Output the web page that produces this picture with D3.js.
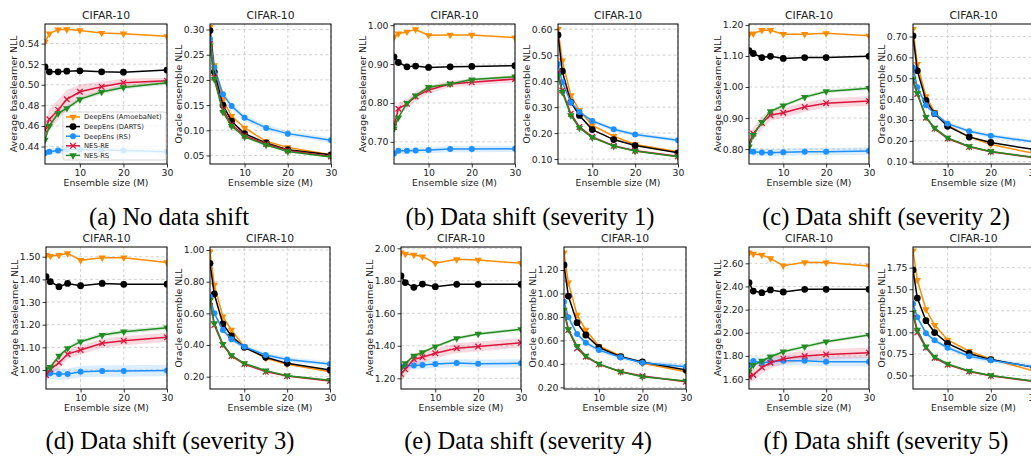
<!DOCTYPE html>
<html>
<head>
<meta charset="utf-8">
<script src="https://cdn.jsdelivr.net/npm/d3@7"></script>
<style>
  body { margin: 0; background: #fff; }
  .container text { font-family: "DejaVu Sans", sans-serif; fill: #222; }
  .container text.caption { font-family: "Liberation Serif", serif; fill: #000; }
</style>
</head>
<body>
<div class="container"></div>
<script>
"use strict";

// ensemble sizes on the x axis
const ensembleSizes = [2, 3, 5, 7, 10, 15, 20, 30];
const xTicks = [10, 20, 30];
const seriesNames = ["DeepEns (AmoebaNet)", "DeepEns (DARTS)", "DeepEns (RS)", "NES-RE", "NES-RS"];
const captions = ["(a) No data shift", "(b) Data shift (severity 1)", "(c) Data shift (severity 2)",
  "(d) Data shift (severity 3)", "(e) Data shift (severity 4)", "(f) Data shift (severity 5)"];

// rows: AmoebaNet, DARTS, RS, NES-RE, NES-RS
const noShiftBase = [
  [0.5416, 0.5496, 0.5535, 0.5538, 0.5528, 0.5502, 0.5496, 0.547],
  [0.5174, 0.5125, 0.5125, 0.5132, 0.5135, 0.5125, 0.5122, 0.5142],
  [0.4336, 0.435, 0.436, 0.437, 0.437, 0.4365, 0.436, 0.435],
  [0.456, 0.4664, 0.4755, 0.4858, 0.4932, 0.498, 0.502, 0.5038],
  [0.4464, 0.46, 0.4722, 0.477, 0.4858, 0.4929, 0.4974, 0.502]
];
const noShiftOracle = [
  [0.3047, 0.229, 0.161, 0.128, 0.1047, 0.078, 0.066, 0.0513],
  [0.298, 0.216, 0.15, 0.118, 0.0933, 0.0747, 0.0613, 0.0513],
  [0.281, 0.2247, 0.1713, 0.148, 0.1247, 0.1047, 0.0933, 0.08],
  [0.2713, 0.2047, 0.1413, 0.1113, 0.0893, 0.0727, 0.06, 0.048],
  [0.268, 0.2013, 0.136, 0.108, 0.0867, 0.0707, 0.058, 0.0467]
];
const shift1Base = [
  [0.9696, 0.978, 0.983, 0.989, 0.974, 0.9747, 0.9747, 0.968],
  [0.9185, 0.904, 0.893, 0.8947, 0.8913, 0.893, 0.8939, 0.8956],
  [0.670, 0.677, 0.677, 0.678, 0.6787, 0.6813, 0.6813, 0.682],
  [0.738, 0.785, 0.7978, 0.8165, 0.8335, 0.8488, 0.853, 0.8616],
  [0.734, 0.762, 0.7995, 0.819, 0.8403, 0.8488, 0.86, 0.8675]
];
const shift1Oracle = [
  [0.60, 0.479, 0.345, 0.2875, 0.23, 0.188, 0.156, 0.128],
  [0.578, 0.438, 0.3194, 0.268, 0.2135, 0.175, 0.152, 0.124],
  [0.466, 0.396, 0.319, 0.281, 0.2467, 0.2148, 0.1944, 0.1727],
  [0.434, 0.364, 0.2747, 0.2237, 0.1855, 0.151, 0.132, 0.111],
  [0.421, 0.3577, 0.268, 0.22, 0.183, 0.15, 0.1306, 0.109]
];
const shift2Base = [
  [1.170, 1.172, 1.183, 1.183, 1.170, 1.170, 1.173, 1.165],
  [1.117, 1.108, 1.095, 1.099, 1.092, 1.095, 1.095, 1.099],
  [0.7936, 0.7915, 0.789, 0.788, 0.790, 0.7915, 0.7915, 0.7936],
  [0.818, 0.85, 0.884, 0.909, 0.917, 0.9355, 0.948, 0.955],
  [0.8075, 0.845, 0.887, 0.9216, 0.94, 0.9675, 0.9856, 0.996]
];
const shift2Oracle = [
  [0.735, 0.568, 0.4127, 0.338, 0.2746, 0.219, 0.1825, 0.14],
  [0.703, 0.5365, 0.3937, 0.33, 0.27, 0.219, 0.192, 0.158],
  [0.552, 0.457, 0.37, 0.33, 0.2825, 0.246, 0.224, 0.195],
  [0.489, 0.425, 0.311, 0.2587, 0.211, 0.1714, 0.1476, 0.12],
  [0.497, 0.4286, 0.314, 0.262, 0.2143, 0.173, 0.149, 0.121]
];
const shift3Base = [
  [1.507, 1.503, 1.507, 1.515, 1.485, 1.4956, 1.4956, 1.475],
  [1.412, 1.39, 1.3676, 1.382, 1.372, 1.382, 1.378, 1.379],
  [0.982, 0.985, 0.982, 0.982, 0.9926, 0.9956, 0.9956, 0.998],
  [0.978, 1.003, 1.032, 1.07, 1.088, 1.1176, 1.129, 1.144],
  [1.003, 1.012, 1.062, 1.0956, 1.125, 1.154, 1.169, 1.1868]
];
const shift3Oracle = [
  [0.989, 0.779, 0.579, 0.495, 0.3895, 0.316, 0.278, 0.2316],
  [0.916, 0.722, 0.5326, 0.457, 0.385, 0.322, 0.284, 0.242],
  [0.705, 0.6, 0.495, 0.436, 0.389, 0.337, 0.309, 0.28],
  [0.674, 0.526, 0.4, 0.3305, 0.28, 0.2316, 0.204, 0.1726],
  [0.684, 0.537, 0.406, 0.335, 0.284, 0.238, 0.206, 0.177]
];
const shift4Base = [
  [1.973, 1.965, 1.959, 1.949, 1.908, 1.932, 1.928, 1.908],
  [1.83, 1.789, 1.76, 1.78, 1.764, 1.778, 1.778, 1.778],
  [1.272, 1.276, 1.278, 1.282, 1.288, 1.294, 1.29, 1.292],
  [1.227, 1.255, 1.317, 1.329, 1.354, 1.385, 1.395, 1.419],
  [1.262, 1.292, 1.337, 1.36, 1.395, 1.446, 1.473, 1.5015]
];
const shift4Oracle = [
  [1.348, 1.092, 0.8165, 0.689, 0.552, 0.467, 0.4045, 0.3335],
  [1.243, 0.978, 0.751, 0.646, 0.541, 0.461, 0.416, 0.348],
  [0.93, 0.7966, 0.6545, 0.5807, 0.518, 0.4557, 0.41, 0.376],
  [0.845, 0.689, 0.532, 0.461, 0.396, 0.3335, 0.2966, 0.248],
  [0.859, 0.694, 0.552, 0.467, 0.399, 0.3335, 0.291, 0.254]
];
const shift5Base = [
  [2.692, 2.681, 2.672, 2.643, 2.58, 2.6086, 2.606, 2.577],
  [2.433, 2.36, 2.346, 2.37, 2.352, 2.375, 2.375, 2.375],
  [1.721, 1.756, 1.741, 1.75, 1.758, 1.758, 1.75, 1.75],
  [1.62, 1.635, 1.70, 1.741, 1.776, 1.799, 1.813, 1.828],
  [1.663, 1.721, 1.756, 1.793, 1.836, 1.88, 1.923, 1.98]
];
const shift5Oracle = [
  [1.947, 1.606, 1.265, 1.084, 0.912, 0.782, 0.692, 0.55],
  [1.7235, 1.398, 1.135, 0.998, 0.8725, 0.755, 0.684, 0.595],
  [1.331, 1.1745, 0.99, 0.908, 0.8216, 0.7235, 0.676, 0.60],
  [1.2137, 0.998, 0.8216, 0.704, 0.6255, 0.547, 0.496, 0.43],
  [1.233, 1.029, 0.833, 0.7157, 0.633, 0.551, 0.50, 0.435]
];

// half-widths of the shaded bands, rows: RS, NES-RE, NES-RS
const noShiftBaseSd = [
  [0.003, 0.003, 0.003, 0.003, 0.003, 0.003, 0.003, 0.003],
  [0.008, 0.01, 0.01, 0.009, 0.007, 0.005, 0.004, 0.003],
  [0.003, 0.003, 0.003, 0.002, 0.002, 0.002, 0.002, 0.002]
];
const noShiftOracleSd = [
  [0.006, 0.006, 0.006, 0.006, 0.006, 0.006, 0.005, 0.005],
  [0.002, 0.002, 0.002, 0.002, 0.002, 0.002, 0.002, 0.002],
  [0.002, 0.002, 0.002, 0.002, 0.002, 0.002, 0.002, 0.002]
];
const shift1BaseSd = [
  [0.008, 0.008, 0.008, 0.008, 0.008, 0.008, 0.008, 0.008],
  [0.015, 0.015, 0.013, 0.012, 0.01, 0.008, 0.008, 0.008],
  [0.004, 0.004, 0.004, 0.004, 0.004, 0.004, 0.004, 0.004]
];
const shift1OracleSd = [
  [0.008, 0.008, 0.008, 0.008, 0.008, 0.008, 0.008, 0.008],
  [0.004, 0.004, 0.004, 0.004, 0.004, 0.004, 0.004, 0.004],
  [0.003, 0.003, 0.003, 0.003, 0.003, 0.003, 0.003, 0.003]
];
const shift2BaseSd = [
  [0.012, 0.012, 0.012, 0.012, 0.012, 0.012, 0.012, 0.012],
  [0.02, 0.02, 0.02, 0.018, 0.016, 0.015, 0.015, 0.015],
  [0.006, 0.006, 0.006, 0.006, 0.006, 0.006, 0.006, 0.006]
];
const shift2OracleSd = [
  [0.01, 0.01, 0.01, 0.01, 0.01, 0.01, 0.01, 0.01],
  [0.005, 0.005, 0.005, 0.005, 0.005, 0.005, 0.005, 0.005],
  [0.004, 0.004, 0.004, 0.004, 0.004, 0.004, 0.004, 0.004]
];
const shift3BaseSd = [
  [0.025, 0.025, 0.025, 0.025, 0.025, 0.025, 0.025, 0.025],
  [0.025, 0.025, 0.025, 0.022, 0.02, 0.02, 0.02, 0.02],
  [0.01, 0.01, 0.01, 0.01, 0.01, 0.01, 0.01, 0.01]
];
const shift3OracleSd = [
  [0.015, 0.015, 0.015, 0.015, 0.015, 0.015, 0.015, 0.015],
  [0.006, 0.006, 0.006, 0.006, 0.006, 0.006, 0.006, 0.006],
  [0.005, 0.005, 0.005, 0.005, 0.005, 0.005, 0.005, 0.005]
];
const shift4BaseSd = [
  [0.025, 0.025, 0.025, 0.025, 0.025, 0.025, 0.025, 0.025],
  [0.04, 0.04, 0.035, 0.035, 0.03, 0.03, 0.03, 0.03],
  [0.01, 0.01, 0.01, 0.01, 0.01, 0.01, 0.01, 0.01]
];
const shift4OracleSd = [
  [0.02, 0.02, 0.02, 0.02, 0.02, 0.02, 0.02, 0.02],
  [0.008, 0.008, 0.008, 0.008, 0.008, 0.008, 0.008, 0.008],
  [0.006, 0.006, 0.006, 0.006, 0.006, 0.006, 0.006, 0.006]
];
const shift5BaseSd = [
  [0.04, 0.04, 0.04, 0.04, 0.04, 0.04, 0.04, 0.04],
  [0.05, 0.05, 0.05, 0.05, 0.045, 0.045, 0.045, 0.045],
  [0.015, 0.015, 0.015, 0.015, 0.015, 0.015, 0.015, 0.015]
];
const shift5OracleSd = [
  [0.03, 0.03, 0.03, 0.03, 0.03, 0.03, 0.03, 0.03],
  [0.01, 0.01, 0.01, 0.01, 0.01, 0.01, 0.01, 0.01],
  [0.008, 0.008, 0.008, 0.008, 0.008, 0.008, 0.008, 0.008]
];

// y tick labels for each panel
const ticksA1 = [0.44, 0.46, 0.48, 0.50, 0.52, 0.54];
const ticksA2 = [0.05, 0.10, 0.15, 0.20, 0.25, 0.30];
const ticksB1 = [0.70, 0.80, 0.90, 1.00];
const ticksB2 = [0.10, 0.20, 0.30, 0.40, 0.50, 0.60];
const ticksC1 = [0.80, 0.90, 1.00, 1.10, 1.20];
const ticksC2 = [0.10, 0.20, 0.30, 0.40, 0.50, 0.60, 0.70];
const ticksD1 = [1.00, 1.10, 1.20, 1.30, 1.40, 1.50];
const ticksD2 = [0.20, 0.40, 0.60, 0.80, 1.00];
const ticksE1 = [1.20, 1.40, 1.60, 1.80, 2.00];
const ticksE2 = [0.20, 0.40, 0.60, 0.80, 1.00, 1.20];
const ticksF1 = [1.60, 1.80, 2.00, 2.20, 2.40, 2.60];
const ticksF2 = [0.50, 0.75, 1.00, 1.25, 1.50, 1.75];

const baseLabel = "Average baselearner NLL";
const oracleLabel = "Oracle ensemble NLL";

/////////////////////////////////////////////////////
// layout

const width = 1031;
const height = 457;
const top1 = 24, bot1 = 164, top2 = 247, bot2 = 389;

const panels = [
  { x0: 45, x1: 167, y0: top1, y1: bot1, yDomain: [0.423, 0.559], ticks: ticksA1, values: noShiftBase, spread: noShiftBaseSd, ylabel: baseLabel, legend: true },
  { x0: 210, x1: 331, y0: top1, y1: bot1, yDomain: [0.033, 0.311], ticks: ticksA2, values: noShiftOracle, spread: noShiftOracleSd, ylabel: oracleLabel },
  { x0: 394, x1: 515, y0: top1, y1: bot1, yDomain: [0.643, 1.003], ticks: ticksB1, values: shift1Base, spread: shift1BaseSd, ylabel: baseLabel },
  { x0: 558, x1: 678, y0: top1, y1: bot1, yDomain: [0.081, 0.620], ticks: ticksB2, values: shift1Oracle, spread: shift1OracleSd, ylabel: oracleLabel },
  { x0: 749, x1: 869, y0: top1, y1: bot1, yDomain: [0.752, 1.203], ticks: ticksC1, values: shift2Base, spread: shift2BaseSd, ylabel: baseLabel },
  { x0: 913, x1: 1034, y0: top1, y1: bot1, yDomain: [0.089, 0.760], ticks: ticksC2, values: shift2Oracle, spread: shift2OracleSd, ylabel: oracleLabel },
  { x0: 46, x1: 167, y0: top2, y1: bot2, yDomain: [0.916, 1.543], ticks: ticksD1, values: shift3Base, spread: shift3BaseSd, ylabel: baseLabel },
  { x0: 210, x1: 330, y0: top2, y1: bot2, yDomain: [0.122, 1.019], ticks: ticksD2, values: shift3Oracle, spread: shift3OracleSd, ylabel: oracleLabel },
  { x0: 401, x1: 521, y0: top2, y1: bot2, yDomain: [1.134, 2.008], ticks: ticksE1, values: shift4Base, spread: shift4BaseSd, ylabel: baseLabel },
  { x0: 564, x1: 686, y0: top2, y1: bot2, yDomain: [0.186, 1.396], ticks: ticksE2, values: shift4Oracle, spread: shift4OracleSd, ylabel: oracleLabel },
  { x0: 749, x1: 869, y0: top2, y1: bot2, yDomain: [1.514, 2.741], ticks: ticksF1, values: shift5Base, spread: shift5BaseSd, ylabel: baseLabel },
  { x0: 913, x1: 1034, y0: top2, y1: bot2, yDomain: [0.343, 1.990], ticks: ticksF2, values: shift5Oracle, spread: shift5OracleSd, ylabel: oracleLabel }
];

const captionPos = [
  { x: 169, y: 225 }, { x: 530, y: 225 }, { x: 886, y: 225 },
  { x: 170, y: 449 }, { x: 528, y: 449 }, { x: 886, y: 449 }
];

const colors = ["#ff8c00", "#000000", "#1e90ff", "#dc143c", "#228b22"];
const markerKind = ["tri", "circle", "circleSmall", "x", "tri"];

const svg = d3
  .select(".container")
  .append("svg")
  .attr("width", width)
  .attr("height", height);

svg.append("rect").attr("width", width).attr("height", height).attr("fill", "#fff");

//draws a marker at 0,0 inside g
const addMarker = (g, kind, color) => {
  if (kind === "tri") {
    g.append("path")
      .attr("d", d3.symbol(d3.symbolTriangle, 24)())
      .attr("transform", "rotate(180)")
      .attr("fill", color);
  } else if (kind === "circle") {
    g.append("circle").attr("r", 3.4).attr("fill", color);
  } else if (kind === "circleSmall") {
    g.append("circle").attr("r", 3).attr("fill", color);
  } else {
    g.append("path")
      .attr("d", "M-2.8,-2.8L2.8,2.8M-2.8,2.8L2.8,-2.8")
      .attr("stroke", color)
      .attr("stroke-width", 1.3)
      .attr("fill", "none");
  }
};

const drawPanel = (p, idx) => {
  const x = d3.scaleLinear().domain([2, 30]).range([p.x0, p.x1]);
  const y = d3.scaleLinear().domain(p.yDomain).range([p.y1, p.y0]);
  const g = svg.append("g");

  const clipId = "clip" + idx;
  svg.append("clipPath").attr("id", clipId)
    .append("rect")
    .attr("x", p.x0).attr("y", p.y0)
    .attr("width", p.x1 - p.x0).attr("height", p.y1 - p.y0);

  // grid
  const grid = g.append("g").attr("stroke", "#b0b0b0").attr("stroke-width", 0.8)
    .attr("stroke-dasharray", "3,2.5").attr("opacity", 0.7);
  grid.selectAll(".gx").data(xTicks).enter().append("line")
    .attr("x1", (d) => x(d)).attr("x2", (d) => x(d))
    .attr("y1", p.y0).attr("y2", p.y1);
  grid.selectAll(".gy").data(p.ticks).enter().append("line")
    .attr("x1", p.x0).attr("x2", p.x1)
    .attr("y1", (d) => y(d)).attr("y2", (d) => y(d));

  const plot = g.append("g").attr("clip-path", "url(#" + clipId + ")");

  // shaded bands
  const area = d3.area()
    .x((d) => x(d.m))
    .y0((d) => y(d.v - d.s))
    .y1((d) => y(d.v + d.s));
  p.spread.forEach((sd, k) => {
    const si = k + 2;
    const pts = ensembleSizes.map((m, i) => ({ m: m, v: p.values[si][i], s: sd[i] }));
    plot.append("path").attr("d", area(pts))
      .attr("fill", colors[si]).attr("opacity", 0.16);
  });

  // lines and markers
  const line = d3.line().x((d) => x(d.m)).y((d) => y(d.v));
  p.values.forEach((row, si) => {
    const pts = ensembleSizes.map((m, i) => ({ m: m, v: row[i] }));
    plot.append("path").attr("d", line(pts))
      .attr("fill", "none").attr("stroke", colors[si]).attr("stroke-width", 1.5);
    pts.forEach((d) => {
      const mg = plot.append("g").attr("transform", "translate(" + x(d.m) + "," + y(d.v) + ")");
      addMarker(mg, markerKind[si], colors[si]);
    });
  });

  // axes
  const xAxis = d3.axisBottom(x).tickValues(xTicks).tickFormat(d3.format("d")).tickSize(3.5).tickPadding(2);
  const yAxis = d3.axisLeft(y).tickValues(p.ticks).tickFormat(d3.format(".2f")).tickSize(3.5).tickPadding(2);
  const gx = g.append("g").attr("transform", "translate(0," + p.y1 + ")").call(xAxis);
  const gy = g.append("g").attr("transform", "translate(" + p.x0 + ",0)").call(yAxis);
  [gx, gy].forEach((a) => {
    a.select(".domain").remove();
    a.selectAll(".tick line").attr("stroke", "#000").attr("stroke-width", 0.8);
    a.selectAll(".tick text").style("font-family", "DejaVu Sans").style("font-size", "9.3px").attr("fill", "#222");
  });

  // frame
  g.append("rect")
    .attr("x", p.x0).attr("y", p.y0)
    .attr("width", p.x1 - p.x0).attr("height", p.y1 - p.y0)
    .attr("fill", "none").attr("stroke", "#000").attr("stroke-width", 1);

  // texts
  g.append("text")
    .attr("x", (p.x0 + p.x1) / 2).attr("y", p.y0 - 5)
    .attr("text-anchor", "middle").style("font-size", "10.8px")
    .text("CIFAR-10");
  g.append("text")
    .attr("x", (p.x0 + p.x1) / 2).attr("y", p.y1 + 22)
    .attr("text-anchor", "middle").style("font-size", "9.3px")
    .text("Ensemble size (M)");
  g.append("text")
    .attr("transform", "translate(" + (p.x0 - 31) + "," + (p.y0 + p.y1) / 2 + ") rotate(-90)")
    .attr("text-anchor", "middle").attr("dy", "0.35em").style("font-size", "9.3px")
    .text(p.ylabel);

  if (p.legend) {
    const lg = g.append("g").attr("transform", "translate(" + (p.x0 + 18) + "," + (p.y0 + 88) + ")");
    lg.append("rect")
      .attr("width", 103).attr("height", 48).attr("rx", 2)
      .attr("fill", "#fff").attr("fill-opacity", 0.8)
      .attr("stroke", "#ccc").attr("stroke-width", 0.8);
    seriesNames.forEach((name, si) => {
      const row = lg.append("g").attr("transform", "translate(0," + (5 + si * 9.6) + ")");
      row.append("line").attr("x1", 3).attr("x2", 17).attr("y1", 0).attr("y2", 0)
        .attr("stroke", colors[si]).attr("stroke-width", 1.5);
      addMarker(row.append("g").attr("transform", "translate(10,0)"), markerKind[si], colors[si]);
      row.append("text").attr("x", 21).attr("dy", "0.35em")
        .style("font-size", "6.8px").text(name);
    });
  }
};

panels.forEach(drawPanel);

// captions under each pair
svg.selectAll(".caption")
  .data(captions)
  .enter()
  .append("text")
  .attr("class", "caption")
  .attr("x", (d, i) => captionPos[i].x)
  .attr("y", (d, i) => captionPos[i].y)
  .attr("text-anchor", "middle")
  .style("font-size", "24.5px")
  .text((d) => d);
</script>
</body>
</html>
